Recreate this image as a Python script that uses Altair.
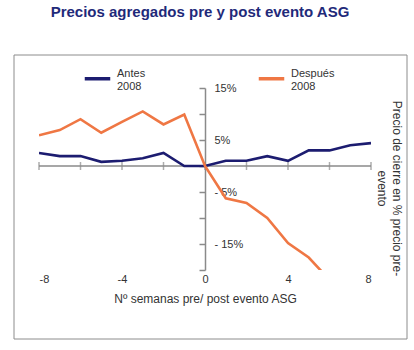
import altair as alt
import pandas as pd

# ---- data ----
weeks_antes = list(range(-8, 9))
antes = [2.5, 1.9, 1.9, 0.8, 1.0, 1.5, 2.5, 0.0, 0.0, 1.0, 1.0, 1.9, 1.0, 3.0, 3.0, 4.0, 4.4]
weeks_despues = list(range(-8, 7))
despues = [5.9, 6.9, 9.0, 6.4, 8.5, 10.5, 8.0, 9.9, 0.0, -6.2, -7.1, -10.0, -14.8, -17.6, -21.9]
series = ["Antes 2008", "Después 2008"]
colors = ["#1c1c70", "#ef7744"]
x_tick_values = [-8, -6, -4, -2, 0, 2, 4, 6, 8]
x_label_values = [-8, -4, 0, 4, 8]
y_tick_values = [15, 10, 5, 0, -5, -10, -15, -20]
x_domain = [-8, 8]
y_domain = [-20, 15]

title_text = "Precios agregados pre y post evento ASG"
x_title = "Nº semanas pre/ post evento ASG"
y_title = ["Precio de cierre  en % precio pre-", "evento"]

df = pd.concat([
    pd.DataFrame({"week": weeks_antes, "value": antes, "serie": series[0]}),
    pd.DataFrame({"week": weeks_despues, "value": despues, "serie": series[1]}),
])

W, H = 332, 182
axis_grey = "#8a8a8a"
text_col = "#333333"

xs = alt.Scale(domain=x_domain, nice=False, zero=False)
ys = alt.Scale(domain=y_domain, nice=False, zero=False)

lines = alt.Chart(df).mark_line(strokeWidth=2.6, clip=True).encode(
    x=alt.X("week:Q", scale=xs, axis=alt.Axis(
        values=x_label_values, domain=False, ticks=False, grid=False,
        labelPadding=3, labelFontSize=11, labelColor=text_col,
        labelExpr="'' + datum.value",
        title=x_title, titleFontSize=12, titleFontWeight="normal",
        titleColor=text_col, titlePadding=9)),
    y=alt.Y("value:Q", scale=ys, axis=alt.Axis(
        orient="left", offset=-W / 2, values=y_tick_values, grid=False,
        domainColor=axis_grey, domainWidth=1.5, tickColor=axis_grey,
        tickWidth=1.5, tickSize=6, labelAlign="left", labelPadding=-15,
        labelFontSize=11, labelColor=text_col,
        labelExpr="datum.value % 10 != 0 ? (datum.value < 0 ? '- ' + abs(datum.value) : '' + datum.value) + '%' : ''",
        title=None)),
    color=alt.Color("serie:N", scale=alt.Scale(domain=series, range=colors),
                    legend=alt.Legend(
                        orient="none", legendX=44, legendY=-24,
                        direction="horizontal", title=None,
                        symbolType="stroke", symbolSize=650,
                        symbolStrokeWidth=3.5, labelExpr="split(datum.label, ' ')",
                        labelFontSize=11, labelColor=text_col,
                        labelBaseline="bottom",
                        labelOffset=5, columnPadding=105, padding=0)),
)

hrule = alt.Chart(pd.DataFrame({"x": [x_domain[0]], "x2": [x_domain[1]], "y": [0]})).mark_rule(
    color=axis_grey, strokeWidth=1.5).encode(
    x=alt.X("x:Q", scale=xs, axis=None),
    x2="x2:Q",
    y=alt.Y("y:Q", scale=ys, axis=alt.Axis(
        orient="right", domain=False, ticks=False, labels=False, grid=False,
        title=y_title, titleAngle=90, titleX=25, titleY=100,
        titleAlign="center", titleBaseline="middle", titleFontSize=12,
        titleFontWeight="normal", titleColor=text_col, titleLineHeight=15)),
)

xticks = alt.Chart(pd.DataFrame({"x": x_tick_values, "y": 0})).mark_tick(
    orient="vertical", size=8, thickness=1.5, color=axis_grey).encode(
    x=alt.X("x:Q", scale=xs, axis=None),
    y=alt.Y("y:Q", scale=ys, axis=None),
)

frame = alt.Chart(pd.DataFrame({"a": [0]})).mark_rect(
    filled=False, stroke="#8c8c8c", strokeWidth=1).encode(
    x=alt.value(-25), x2=alt.value(W + 36), y=alt.value(-33), y2=alt.value(H + 69))

chart = alt.layer(frame, hrule, xticks, lines).resolve_axis(
    x="independent", y="independent").properties(
    width=W, height=H,
    title=alt.TitleParams(title_text, fontSize=15, fontWeight="bold",
                          color="#1f2a7a", anchor="middle", offset=35, dx=-5),
    padding={"left": 13, "top": 4, "right": 6, "bottom": 6},
).configure(font="Liberation Sans").configure_view(stroke=None)

chart.save("out.html", embed_options={"renderer": "svg", "actions": False})
